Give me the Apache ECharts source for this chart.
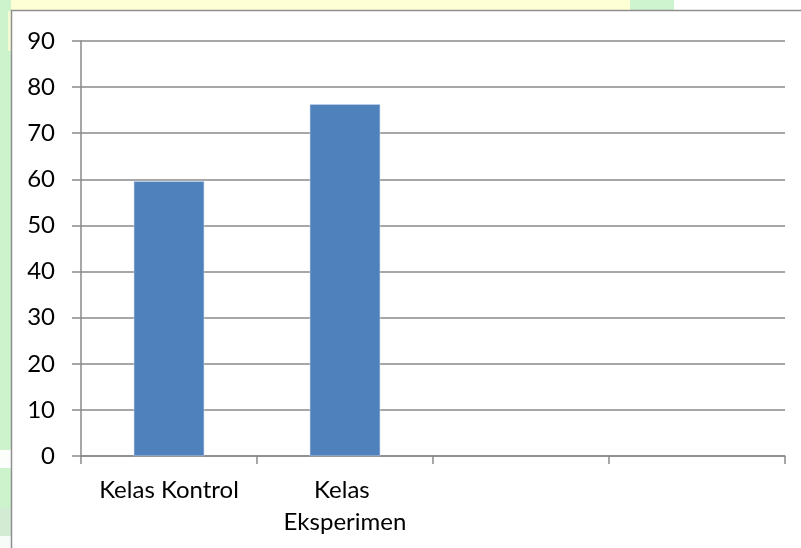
<!DOCTYPE html>
<html>
<head>
<meta charset="utf-8">
<script src="https://cdn.jsdelivr.net/npm/echarts@6/dist/echarts.min.js"></script>
<style>
  html, body { margin: 0; padding: 0; background: #ffffff; }
  #chart { width: 801px; height: 548px; }
</style>
</head>
<body>
<div id="chart"></div>
<script>
// Categories along the horizontal axis (two empty slots on the right)
const categories = ["Kelas Kontrol", "Kelas Eksperimen", "", ""];
// Average score per class
const scores = [59.6, 76.3, null, null];
// Value-axis range
const yMin = 0;
const yMax = 90;
const yStep = 10;

const FONT = "Lato, 'Noto Sans', sans-serif";
const AXIS_GRAY = "#8a8a8a";

const chart = echarts.init(document.getElementById("chart"), null, { renderer: "canvas" });

chart.setOption({
  animation: false,
  backgroundColor: "#ffffff",
  graphic: [
    // page colour strips around the chart frame
    { type: "rect", z: -10, shape: { x: 0, y: 0, width: 674, height: 11 }, style: { fill: "#ffffd6" } },
    { type: "rect", z: -10, shape: { x: 0, y: 0, width: 8, height: 11 }, style: { fill: "#d3f4d0" } },
    { type: "rect", z: -10, shape: { x: 630, y: 0, width: 44, height: 11 }, style: { fill: "#cdf3cf" } },
    { type: "rect", z: -10, shape: { x: 0, y: 0, width: 11, height: 548 }, style: { fill: "#cdf3cd" } },
    { type: "rect", z: -10, shape: { x: 8, y: 11, width: 3, height: 40 }, style: { fill: "#f4fbd4" } },
    { type: "rect", z: -10, shape: { x: 0, y: 450, width: 11, height: 18 }, style: { fill: "#fbfefb" } },
    { type: "rect", z: -10, shape: { x: 0, y: 508, width: 11, height: 28 }, style: { fill: "#d3ebd3" } },
    { type: "rect", z: -10, shape: { x: 0, y: 536, width: 11, height: 12 }, style: { fill: "#f8fcf8" } },
    // chart frame
    { type: "rect", z: -5, shape: { x: 11.5, y: 10.5, width: 800, height: 560 },
      style: { fill: "#ffffff", stroke: "#8f8f8f", lineWidth: 1.5 } }
  ],
  grid: { left: 81, right: 16, top: 41, bottom: 92, containLabel: false },
  xAxis: {
    type: "category",
    data: categories,
    boundaryGap: true,
    axisLine: { show: true, lineStyle: { color: AXIS_GRAY, width: 1.5 } },
    axisTick: { show: true, alignWithLabel: false, length: 8, lineStyle: { color: AXIS_GRAY, width: 1.5 } },
    axisLabel: {
      interval: 0,
      color: "#000000",
      fontFamily: FONT,
      fontSize: 24,
      lineHeight: 32,
      margin: 18,
      width: 170,
      overflow: "break"
    },
    splitLine: { show: false }
  },
  yAxis: {
    type: "value",
    min: yMin,
    max: yMax,
    interval: yStep,
    axisLine: { show: true, lineStyle: { color: AXIS_GRAY, width: 1.5 } },
    axisTick: { show: true, length: 9, lineStyle: { color: AXIS_GRAY, width: 1.5 } },
    axisLabel: {
      color: "#000000",
      fontFamily: FONT,
      fontSize: 24,
      margin: 26
    },
    splitLine: { show: true, lineStyle: { color: AXIS_GRAY, width: 1.5 } }
  },
  series: [{
    type: "bar",
    data: scores,
    barWidth: "40%",
    itemStyle: { color: "#4f81bd", borderColor: "#c9d9ee", borderWidth: 0.5 }
  }]
});
</script>
</body>
</html>
